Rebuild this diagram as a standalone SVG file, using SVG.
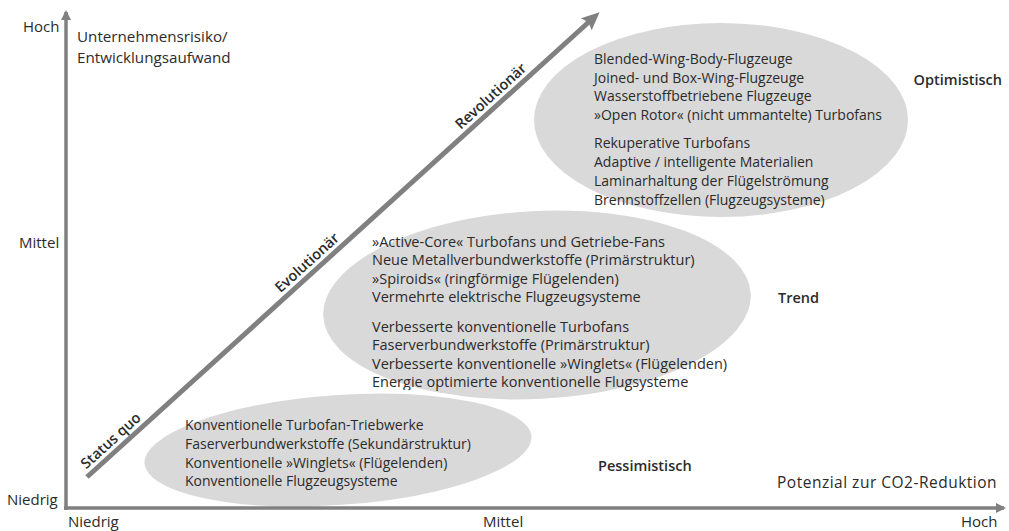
<svg xmlns="http://www.w3.org/2000/svg" width="1009" height="531" viewBox="0 0 1009 531">
<style>
.t{font-family:"Open Sans","Liberation Sans",sans-serif;font-size:14px;fill:#2b2b2b}
.tm{font-family:"Open Sans","Liberation Sans",sans-serif;font-size:14.5px;fill:#2b2b2b}
.b{font-family:"Open Sans","Liberation Sans",sans-serif;font-size:14.5px;font-weight:600;fill:#2b2b2b}
.ax{font-family:"Open Sans","Liberation Sans",sans-serif;font-size:15px;fill:#2b2b2b}
.big{font-family:"Open Sans","Liberation Sans",sans-serif;font-size:15.5px;fill:#2b2b2b}
.el{fill:#d9d9d9;stroke:#fff;stroke-width:4}
.axis{stroke:#808080;stroke-width:3.5;fill:none}
.dl{font-family:"Open Sans","Liberation Sans",sans-serif;font-size:14.5px;font-weight:600;fill:#2b2b2b}
</style>
<defs>
<marker id="ah" markerWidth="10" markerHeight="10" refX="8" refY="5" orient="auto" markerUnits="userSpaceOnUse">
<path d="M0,0 L10,5 L0,10 Z" fill="#808080"/>
</marker>
</defs>
<g id="ellipse-optimistisch">
<ellipse class="el" cx="721" cy="120" rx="189" ry="99"/>
<text class="t" x="594" y="64">Blended-Wing-Body-Flugzeuge</text>
<text class="t" x="594" y="83">Joined- und Box-Wing-Flugzeuge</text>
<text class="t" x="594" y="101">Wasserstoffbetriebene Flugzeuge</text>
<text class="t" x="594" y="120">»Open Rotor« (nicht ummantelte) Turbofans</text>
<text class="t" x="594" y="148">Rekuperative Turbofans</text>
<text class="t" x="594" y="167">Adaptive / intelligente Materialien</text>
<text class="t" x="594" y="186">Laminarhaltung der Flügelströmung</text>
<text class="t" x="594" y="205">Brennstoffzellen (Flugzeugsysteme)</text>
<text class="b" x="1002" y="85" text-anchor="end">Optimistisch</text>
</g>
<g id="ellipse-trend">
<ellipse class="el" cx="537" cy="305" rx="216" ry="96" transform="rotate(-3 537 305)"/>
<text class="tm" x="372" y="247">»Active-Core« Turbofans und Getriebe-Fans</text>
<text class="tm" x="372" y="265">Neue Metallverbundwerkstoffe (Primärstruktur)</text>
<text class="tm" x="372" y="284">»Spiroids« (ringförmige Flügelenden)</text>
<text class="tm" x="372" y="302">Vermehrte elektrische Flugzeugsysteme</text>
<text class="tm" x="372" y="332">Verbesserte konventionelle Turbofans</text>
<text class="tm" x="372" y="350">Faserverbundwerkstoffe (Primärstruktur)</text>
<text class="tm" x="372" y="369">Verbesserte konventionelle »Winglets« (Flügelenden)</text>
<text class="tm" x="372" y="387">Energie optimierte konventionelle Flugsysteme</text>
<text class="b" x="778" y="303">Trend</text>
</g>
<g id="ellipse-pessimistisch">
<ellipse class="el" cx="338" cy="450" rx="196" ry="57" transform="rotate(-4 338 450)"/>
<text class="t" x="185" y="430">Konventionelle Turbofan-Triebwerke</text>
<text class="t" x="185" y="449">Faserverbundwerkstoffe (Sekundärstruktur)</text>
<text class="t" x="185" y="468">Konventionelle »Winglets« (Flügelenden)</text>
<text class="t" x="185" y="486">Konventionelle Flugzeugsysteme</text>
<text class="b" x="598" y="471">Pessimistisch</text>
</g>
<g id="connectors">
<line class="axis" x1="66" y1="510" x2="66" y2="12" marker-end="url(#ah)"/>
<line class="axis" x1="64" y1="508" x2="1004" y2="508" marker-end="url(#ah)"/>
<g transform="translate(87,477) rotate(-42.2)">
<line x1="0" y1="0" x2="680" y2="0" stroke="#808080" stroke-width="5"/>
<path d="M692,0 L674,-8 L677,0 L674,8 Z" fill="#808080"/>
<text class="dl" x="42" y="-6" text-anchor="middle">Status quo</text>
<text class="dl" x="307" y="-6" text-anchor="middle">Evolutionär</text>
<text class="dl" x="555" y="-6" text-anchor="middle">Revolutionär</text>
</g>
</g>
<g id="labels">
<text class="ax" x="23" y="32">Hoch</text>
<text class="ax" x="19" y="248">Mittel</text>
<text class="ax" x="7" y="505">Niedrig</text>
<text class="ax" x="68" y="527">Niedrig</text>
<text class="ax" x="483" y="527">Mittel</text>
<text class="ax" x="961" y="527">Hoch</text>
<text class="big" x="77" y="42" style="font-size:15.2px">Unternehmensrisiko/<tspan x="77" dy="21">Entwicklungsaufwand</tspan></text>
<text class="big" x="777" y="488" letter-spacing="0.5">Potenzial zur CO2-Reduktion</text>
</g>
</svg>
